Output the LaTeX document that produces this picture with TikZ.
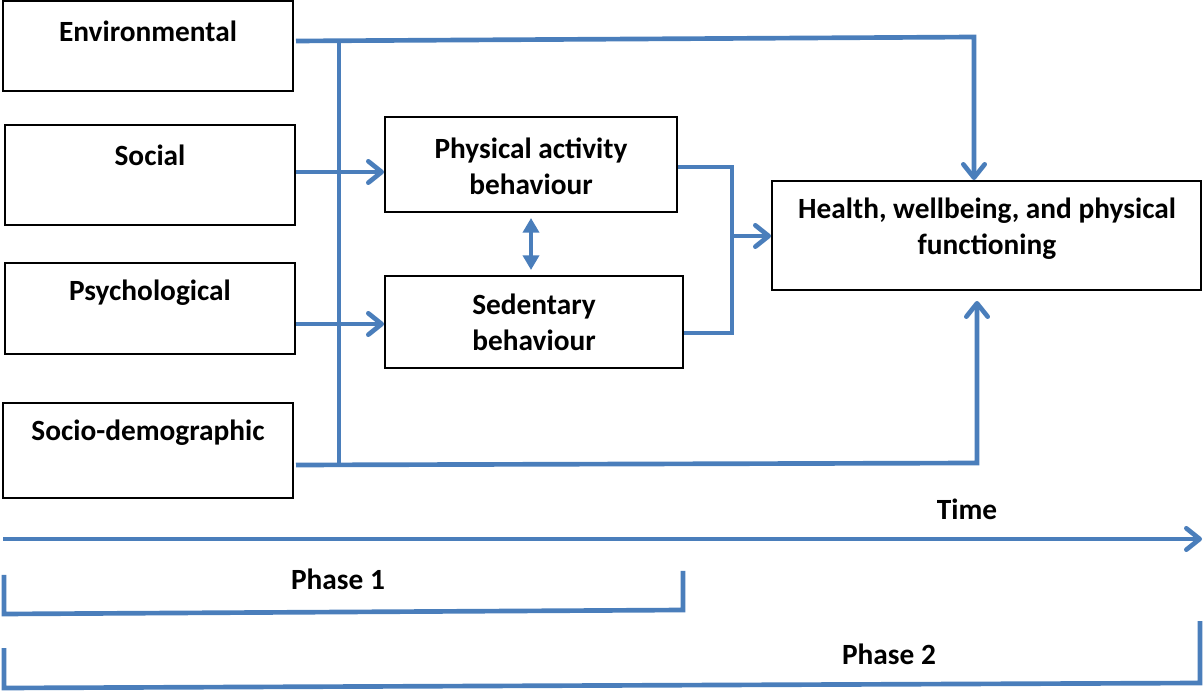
\documentclass[tikz,border=0pt]{standalone}
\usepackage{fontspec}
\setmainfont{Carlito}
\usetikzlibrary{arrows.meta}
\definecolor{lineblue}{RGB}{74,126,187}
\begin{document}
\begin{tikzpicture}[x=0.75pt,y=-0.75pt,
  box/.style={draw=black,line width=1.5pt,rectangle,inner sep=0pt},
  lbl/.style={font=\fontsize{22}{27}\selectfont\bfseries,align=center,inner sep=0pt},
  conn/.style={draw=lineblue,line width=3.5pt,line cap=butt,line join=miter},
  chev/.style={-{Straight Barb[length=10pt,width=16pt,line cap=round,line join=round]}},
  dbl/.style={draw=lineblue,line width=3pt,{Triangle[length=11pt,width=12pt]}-{Triangle[length=11pt,width=12pt]}}]
\useasboundingbox (0,0) rectangle (1204,691);
% boxes
\node[box,minimum width={290*0.75pt},minimum height={90*0.75pt}] (env) at (148,46) {};
\node[box,minimum width={290*0.75pt},minimum height={100*0.75pt}] (soc) at (150,175) {};
\node[box,minimum width={290*0.75pt},minimum height={91*0.75pt}] (psy) at (150,308.5) {};
\node[box,minimum width={290*0.75pt},minimum height={95*0.75pt}] (sdm) at (148,450.5) {};
\node[box,minimum width={292*0.75pt},minimum height={95*0.75pt}] (pa) at (531,164.5) {};
\node[box,minimum width={298*0.75pt},minimum height={92*0.75pt}] (sed) at (534,322) {};
\node[box,minimum width={429*0.75pt},minimum height={109*0.75pt}] (hea) at (986.5,235.5) {};
% texts
\node[lbl] (tenv) at (148,31) {Environmental};
\node[lbl] (tsoc) at (150,155) {Social};
\node[lbl] (tpsy) at (150,293) {Psychological};
\node[lbl] (tsdm) at (148,433) {Socio-demographic};
\node[lbl] (tpa) at (531,166) {Physical activity\\behaviour};
\node[lbl] (tsed) at (534,322.5) {Sedentary\\behaviour};
\node[lbl] (thea) at (987,228.5) {Health, wellbeing, and physical\\functioning};
\node[lbl] (ttime) at (967,509) {Time};
\node[lbl] (tph1) at (338,579) {Phase 1};
\node[lbl] (tph2) at (889,654) {Phase 2};
% coordinates
\coordinate (envout) at (296,41);
\coordinate (envcorner) at (974,37);
\coordinate (vtop) at (339,41);
\coordinate (vbot) at (339,465);
\coordinate (sdmout) at (296,465);
\coordinate (sdmcorner) at (977,463);
\coordinate (socout) at (296,172);
\coordinate (psyout) at (296,324);
\coordinate (patop) at (732,167);
\coordinate (sedbot) at (732,333);
\coordinate (merge) at (732,236);
\coordinate (tstart) at (3,539);
\coordinate (tend) at (1202,539);
\coordinate (p1a) at (4,575);
\coordinate (p1b) at (4,614);
\coordinate (p1c) at (683,610);
\coordinate (p1d) at (683,571);
\coordinate (p2a) at (4,648);
\coordinate (p2b) at (4,688);
\coordinate (p2c) at (1200,683);
\coordinate (p2d) at (1200,621);
% connectors
\draw[conn,chev] (envout) -- (envcorner) -- (envcorner |- hea.north);
\draw[conn] (vtop) -- (vbot);
\draw[conn,chev] (sdmout) -- (sdmcorner) -- ([yshift=-10*0.75pt]sdmcorner |- hea.south);
\draw[conn,chev] (socout) -- (socout -| pa.west);
\draw[conn,chev] (psyout) -- (psyout -| sed.west);
\draw[conn] (patop -| pa.east) -- (patop) -- (sedbot) -- (sedbot -| sed.east);
\draw[conn,chev] (merge) -- (merge -| hea.west);
\draw[dbl] ([yshift=-5*0.75pt]pa.south) -- ([yshift=5*0.75pt]pa.south |- sed.north);
\draw[conn,chev] (tstart) -- (tend);
\draw[conn] (p1a) -- (p1b) -- (p1c) -- (p1d);
\draw[conn] (p2a) -- (p2b) -- (p2c) -- (p2d);
\end{tikzpicture}
\end{document}
